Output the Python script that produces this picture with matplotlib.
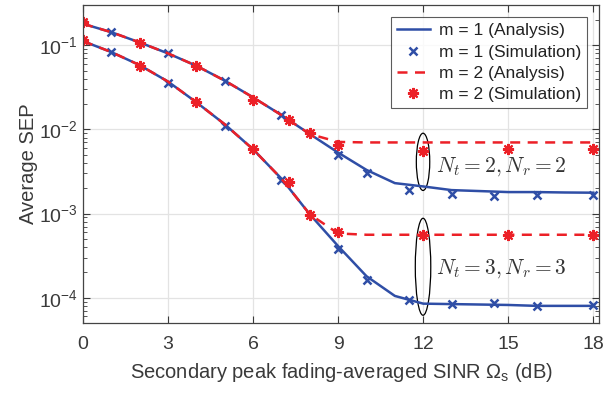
import matplotlib.pyplot as plt
from matplotlib.patches import Ellipse
from matplotlib.ticker import LogLocator, NullFormatter

plt.rcParams['font.family'] = ['Liberation Sans', 'DejaVu Sans']
plt.rcParams['mathtext.fontset'] = 'custom'
plt.rcParams['mathtext.rm'] = 'Liberation Sans'
plt.rcParams['mathtext.it'] = 'Liberation Sans:italic'

BLUE = '#2f4ea6'
RED = '#ec2027'
TXT = '#3a3a3a'

# analysis curves (x grid)
x_ana = [0, 1, 2, 3, 4, 5, 6, 7, 8, 9, 10, 11, 12, 13, 14, 15, 16, 17, 18]
m1_n2_ana = [0.18, 0.143, 0.108, 0.080, 0.057, 0.038, 0.024, 0.0148, 0.0088, 0.0053,
             0.0033, 0.0023, 0.0021, 0.0019, 0.00185, 0.0018, 0.0018, 0.00178, 0.00177]
m1_n3_ana = [0.112, 0.083, 0.058, 0.037, 0.021, 0.0115, 0.0058, 0.0026, 0.00098, 0.00041,
             0.00018, 0.000105, 0.000085, 0.000084, 0.000083, 0.000082, 0.00008, 0.00008, 0.00008]
m2_n2_ana = [0.18, 0.143, 0.108, 0.080, 0.057, 0.038, 0.024, 0.0148, 0.0088, 0.0071,
             0.0070, 0.0070, 0.0070, 0.0070, 0.0070, 0.0070, 0.0070, 0.0070, 0.0070]
m2_n3_ana = [0.112, 0.083, 0.058, 0.037, 0.021, 0.0115, 0.0058, 0.0026, 0.00098, 0.00058,
             0.00056, 0.00056, 0.00056, 0.00056, 0.00056, 0.00056, 0.00056, 0.00056, 0.00056]

# simulation points
x_sim1 = [1, 3, 5, 7, 9, 10, 11.5, 13, 14.5, 16, 18]
m1_n2_sim = [0.144, 0.081, 0.038, 0.0147, 0.0049, 0.0030, 0.0019, 0.0017, 0.0016, 0.00165, 0.00166]
m1_n3_sim = [0.083, 0.036, 0.011, 0.0025, 0.00038, 0.000162, 0.000093, 0.000085, 0.000087, 0.000079, 0.000083]

x_sim2 = [0, 2, 4, 6, 7.25, 8, 9, 12, 15, 18]
m2_n2_sim = [0.19, 0.107, 0.056, 0.0226, 0.013, 0.0091, 0.0065, 0.0056, 0.0059, 0.0058]
m2_n3_sim = [0.117, 0.056, 0.021, 0.0059, 0.0024, 0.00097, 0.0006, 0.00055, 0.00055, 0.00055]

fig = plt.figure(figsize=(6.16, 3.93), dpi=100)
ax = fig.add_axes([0.1347, 0.178, 0.8377, 0.809])

ax.semilogy(x_ana, m1_n2_ana, '-', color=BLUE, lw=1.8, label='m = 1 (Analysis)')
ax.semilogy(x_ana, m1_n3_ana, '-', color=BLUE, lw=1.8)
ax.semilogy(x_sim1, m1_n2_sim, 'x', color=BLUE, ms=6, mew=1.8, label='m = 1 (Simulation)')
ax.semilogy(x_sim1, m1_n3_sim, 'x', color=BLUE, ms=6, mew=1.8)
ax.semilogy(x_ana, m2_n2_ana, '--', color=RED, lw=1.8, dashes=(4, 3), label='m = 2 (Analysis)')
ax.semilogy(x_ana, m2_n3_ana, '--', color=RED, lw=1.8, dashes=(4, 3))
ax.semilogy(x_sim2, m2_n2_sim, ls='none', marker=(8, 2, 0), color=RED, ms=8, mew=1.5,
            label='m = 2 (Simulation)')
ax.semilogy(x_sim2, m2_n3_sim, ls='none', marker=(8, 2, 0), color=RED, ms=8, mew=1.5)

ax.set_xlim(0, 18.2)
ax.set_ylim(5e-5, 0.3)
ax.set_xticks([0, 3, 6, 9, 12, 15, 18])
ax.yaxis.set_major_locator(LogLocator(base=10, numticks=10))
ax.yaxis.set_minor_locator(LogLocator(base=10, subs=range(2, 10), numticks=10))
ax.yaxis.set_minor_formatter(NullFormatter())
ax.tick_params(which='both', direction='in', top=True, right=True, colors=TXT,
               labelsize=14, labelcolor=TXT)
ax.tick_params(which='major', length=5, width=0.8)
ax.tick_params(which='minor', length=3, width=0.6)
ax.tick_params(axis='x', pad=9)
ax.grid(True, which='major', color='#e3e3e3', lw=0.9)
ax.set_axisbelow(True)
for s in ax.spines.values():
    s.set_color('#444444')
    s.set_linewidth(0.9)

ax.set_xlabel(r'Secondary peak fading-averaged SINR $\Omega_\mathrm{s}$ (dB)', fontsize=14.5,
              color=TXT, labelpad=6)
ax.set_ylabel('Average SEP', fontsize=14.5, color=TXT, labelpad=1)

ax.add_patch(Ellipse((0.659, 0.507), 0.026, 0.18, transform=ax.transAxes,
                     fill=False, ec='black', lw=0.9))
ax.add_patch(Ellipse((0.659, 0.177), 0.03, 0.305, transform=ax.transAxes,
                     fill=False, ec='black', lw=0.9))
ax.text(0.684, 0.493, r'$N_t = 2, N_r = 2$', transform=ax.transAxes, fontsize=15.5,
        va='center', ha='left', color='#333333', math_fontfamily='cm')
ax.text(0.684, 0.172, r'$N_t = 3, N_r = 3$', transform=ax.transAxes, fontsize=15.5,
        va='center', ha='left', color='#333333', math_fontfamily='cm')

leg = ax.legend(loc='upper right', fontsize=12.5, frameon=True, fancybox=False,
                edgecolor='#333333', borderaxespad=0.7, handlelength=1.9,
                labelspacing=0.35, borderpad=0.35, handletextpad=0.5)
leg.get_frame().set_linewidth(0.8)
for t in leg.get_texts():
    t.set_color('#222222')

fig.savefig('out.png', dpi=100)
